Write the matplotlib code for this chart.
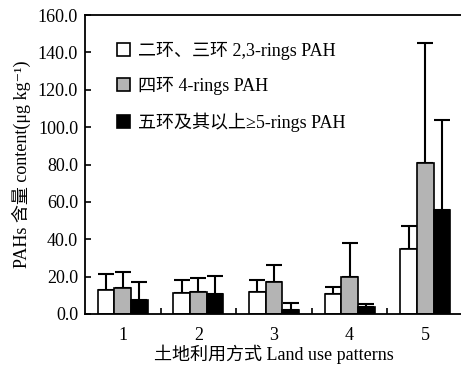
import matplotlib
matplotlib.use("Agg")
import matplotlib.pyplot as plt
import numpy as np

plt.rcParams['font.family'] = ['Liberation Serif', 'Noto Sans CJK SC', 'DejaVu Serif', 'DejaVu Sans']

categories = ['1', '2', '3', '4', '5']
series_names = ['二环、三环 2,3-rings PAH', '四环 4-rings PAH', '五环及其以上≥5-rings PAH']
ring23 = [12.7, 11.5, 12.0, 10.9, 34.7]
ring23_err = [8.6, 6.9, 6.4, 3.4, 12.6]
ring4 = [14.1, 11.8, 17.3, 19.7, 80.9]
ring4_err = [8.4, 7.7, 8.8, 18.2, 63.9]
ring5 = [7.7, 10.9, 2.0, 3.8, 55.4]
ring5_err = [9.4, 9.7, 4.1, 1.4, 48.2]
yticks = [0, 20, 40, 60, 80, 100, 120, 140, 160]

fig = plt.figure(figsize=(4.61, 3.66), dpi=100)
ax = fig.add_axes([85/461, 1-314/366, 378/461, 299/366])

x = np.arange(len(categories))
w = 0.22
colors = ['white', '#b4b4b4', 'black']
data = [(ring23, ring23_err), (ring4, ring4_err), (ring5, ring5_err)]
for i, ((vals, errs), c, name) in enumerate(zip(data, colors, series_names)):
    pos = x + (i - 1) * w
    ax.bar(pos, vals, width=w, color=c, edgecolor='black', linewidth=1.2, label=name, zorder=2)
    ax.errorbar(pos, vals, yerr=[np.zeros(len(vals)), errs], fmt='none', ecolor='black',
                elinewidth=1.5, capsize=6, capthick=1.5, zorder=1)

fs = 13
ax.set_xlim(-0.5, 4.5)
ax.set_ylim(0, 160)
ax.set_yticks(yticks)
ax.set_yticklabels([f'{v:.1f}' for v in yticks], fontsize=fs)
ax.set_xticks(x)
ax.set_xticklabels(categories, fontsize=fs)
ax.set_xticks(np.arange(0.5, 4.5, 1), minor=True)
ax.tick_params(axis='x', which='major', length=0, pad=9)
ax.tick_params(axis='x', which='minor', direction='in', length=4, width=1.2)
ax.tick_params(axis='y', direction='in', length=4, width=1.2, pad=5)
for s in ax.spines.values():
    s.set_linewidth(1.3)

ax.set_ylabel('PAHs 含量 content(μg kg⁻¹)', fontsize=fs, labelpad=5)
ax.set_xlabel('土地利用方式 Land use patterns', fontsize=fs, labelpad=1)

leg = ax.legend(loc='upper left', bbox_to_anchor=(0.065, 0.935), frameon=False,
                fontsize=fs, handlelength=0.75, handleheight=0.75, labelspacing=0.95,
                handletextpad=0.45, borderaxespad=0)

fig.savefig('out.png', dpi=100)
